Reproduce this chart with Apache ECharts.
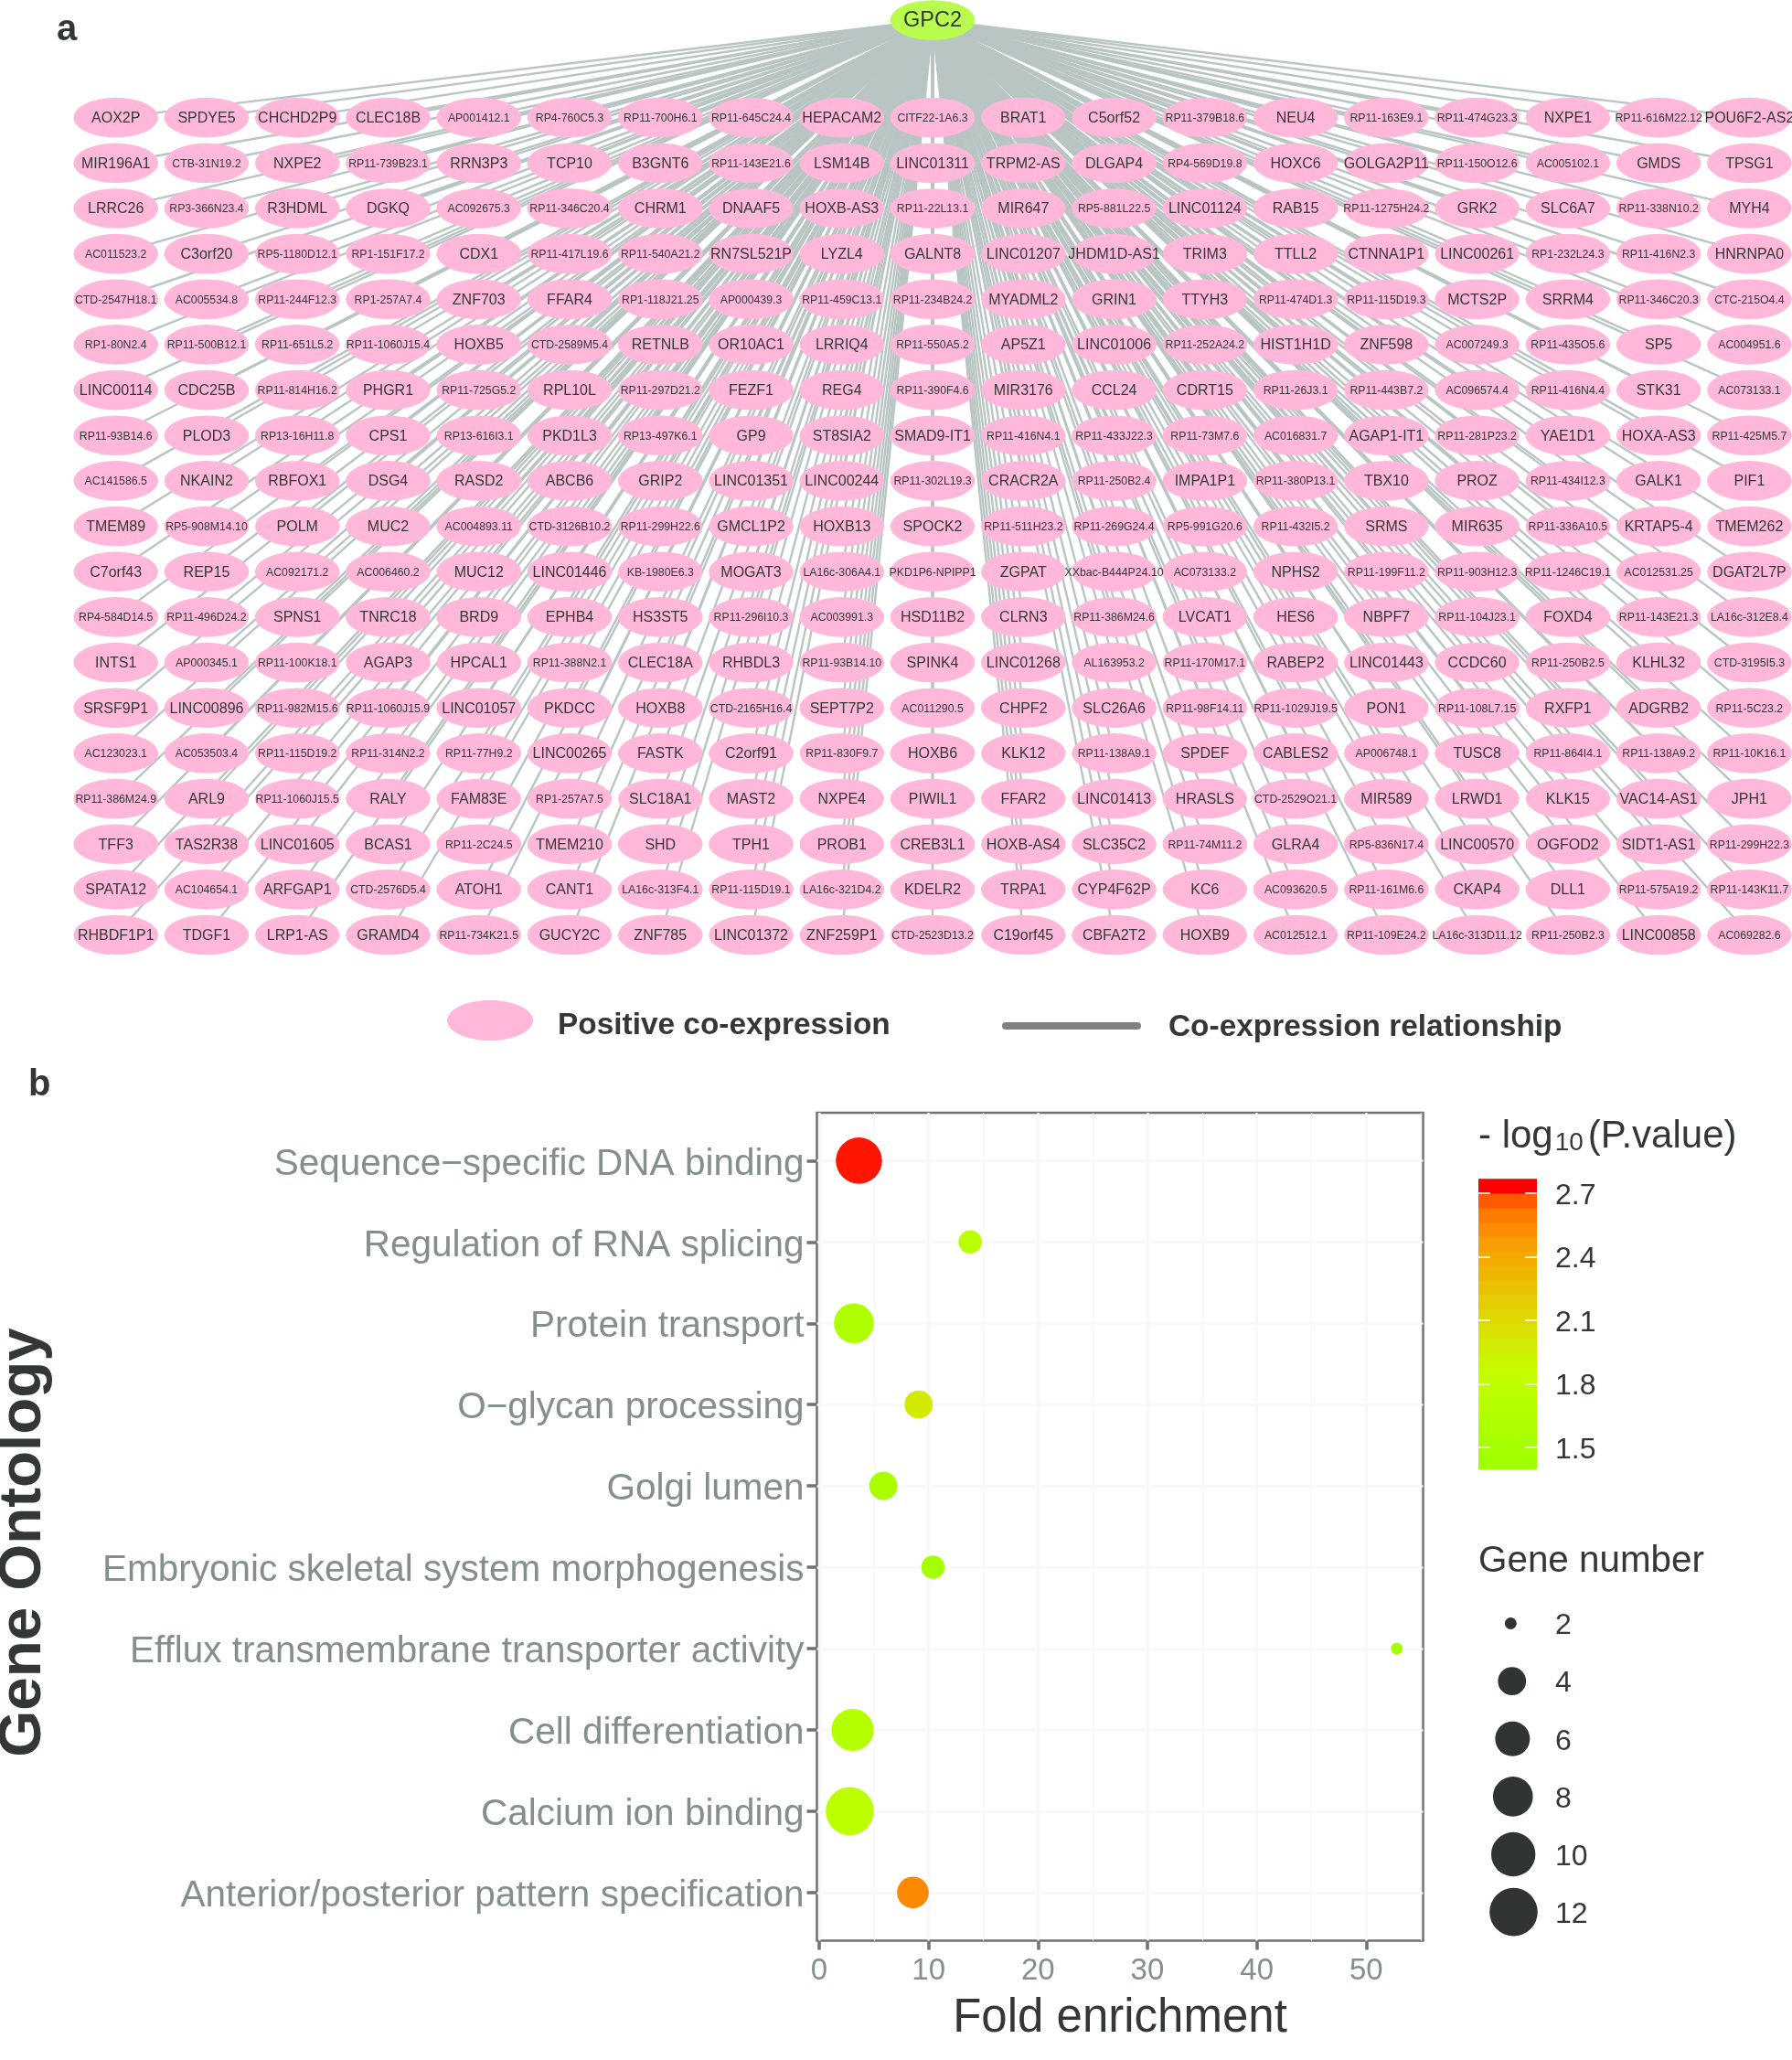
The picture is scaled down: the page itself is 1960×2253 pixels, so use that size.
<!DOCTYPE html>
<html>
<head>
<meta charset="utf-8">
<style>html,body{margin:0;padding:0;background:#fff}#c{width:1960px;height:2253px}</style>
<script src="https://cdn.jsdelivr.net/npm/echarts@6/dist/echarts.min.js"></script>
</head>
<body>
<div id="c"></div>
<script>
const hubGene = 'GPC2';
const row01 = ['AOX2P','SPDYE5','CHCHD2P9','CLEC18B','AP001412.1','RP4-760C5.3','RP11-700H6.1','RP11-645C24.4','HEPACAM2','CITF22-1A6.3','BRAT1','C5orf52','RP11-379B18.6','NEU4','RP11-163E9.1','RP11-474G23.3','NXPE1','RP11-616M22.12','POU6F2-AS2'];
const row02 = ['MIR196A1','CTB-31N19.2','NXPE2','RP11-739B23.1','RRN3P3','TCP10','B3GNT6','RP11-143E21.6','LSM14B','LINC01311','TRPM2-AS','DLGAP4','RP4-569D19.8','HOXC6','GOLGA2P11','RP11-150O12.6','AC005102.1','GMDS','TPSG1'];
const row03 = ['LRRC26','RP3-366N23.4','R3HDML','DGKQ','AC092675.3','RP11-346C20.4','CHRM1','DNAAF5','HOXB-AS3','RP11-22L13.1','MIR647','RP5-881L22.5','LINC01124','RAB15','RP11-1275H24.2','GRK2','SLC6A7','RP11-338N10.2','MYH4'];
const row04 = ['AC011523.2','C3orf20','RP5-1180D12.1','RP1-151F17.2','CDX1','RP11-417L19.6','RP11-540A21.2','RN7SL521P','LYZL4','GALNT8','LINC01207','JHDM1D-AS1','TRIM3','TTLL2','CTNNA1P1','LINC00261','RP1-232L24.3','RP11-416N2.3','HNRNPA0'];
const row05 = ['CTD-2547H18.1','AC005534.8','RP11-244F12.3','RP1-257A7.4','ZNF703','FFAR4','RP1-118J21.25','AP000439.3','RP11-459C13.1','RP11-234B24.2','MYADML2','GRIN1','TTYH3','RP11-474D1.3','RP11-115D19.3','MCTS2P','SRRM4','RP11-346C20.3','CTC-215O4.4'];
const row06 = ['RP1-80N2.4','RP11-500B12.1','RP11-651L5.2','RP11-1060J15.4','HOXB5','CTD-2589M5.4','RETNLB','OR10AC1','LRRIQ4','RP11-550A5.2','AP5Z1','LINC01006','RP11-252A24.2','HIST1H1D','ZNF598','AC007249.3','RP11-435O5.6','SP5','AC004951.6'];
const row07 = ['LINC00114','CDC25B','RP11-814H16.2','PHGR1','RP11-725G5.2','RPL10L','RP11-297D21.2','FEZF1','REG4','RP11-390F4.6','MIR3176','CCL24','CDRT15','RP11-26J3.1','RP11-443B7.2','AC096574.4','RP11-416N4.4','STK31','AC073133.1'];
const row08 = ['RP11-93B14.6','PLOD3','RP13-16H11.8','CPS1','RP13-616I3.1','PKD1L3','RP13-497K6.1','GP9','ST8SIA2','SMAD9-IT1','RP11-416N4.1','RP11-433J22.3','RP11-73M7.6','AC016831.7','AGAP1-IT1','RP11-281P23.2','YAE1D1','HOXA-AS3','RP11-425M5.7'];
const row09 = ['AC141586.5','NKAIN2','RBFOX1','DSG4','RASD2','ABCB6','GRIP2','LINC01351','LINC00244','RP11-302L19.3','CRACR2A','RP11-250B2.4','IMPA1P1','RP11-380P13.1','TBX10','PROZ','RP11-434I12.3','GALK1','PIF1'];
const row10 = ['TMEM89','RP5-908M14.10','POLM','MUC2','AC004893.11','CTD-3126B10.2','RP11-299H22.6','GMCL1P2','HOXB13','SPOCK2','RP11-511H23.2','RP11-269G24.4','RP5-991G20.6','RP11-432I5.2','SRMS','MIR635','RP11-336A10.5','KRTAP5-4','TMEM262'];
const row11 = ['C7orf43','REP15','AC092171.2','AC006460.2','MUC12','LINC01446','KB-1980E6.3','MOGAT3','LA16c-306A4.1','PKD1P6-NPIPP1','ZGPAT','XXbac-B444P24.10','AC073133.2','NPHS2','RP11-199F11.2','RP11-903H12.3','RP11-1246C19.1','AC012531.25','DGAT2L7P'];
const row12 = ['RP4-584D14.5','RP11-496D24.2','SPNS1','TNRC18','BRD9','EPHB4','HS3ST5','RP11-296I10.3','AC003991.3','HSD11B2','CLRN3','RP11-386M24.6','LVCAT1','HES6','NBPF7','RP11-104J23.1','FOXD4','RP11-143E21.3','LA16c-312E8.4'];
const row13 = ['INTS1','AP000345.1','RP11-100K18.1','AGAP3','HPCAL1','RP11-388N2.1','CLEC18A','RHBDL3','RP11-93B14.10','SPINK4','LINC01268','AL163953.2','RP11-170M17.1','RABEP2','LINC01443','CCDC60','RP11-250B2.5','KLHL32','CTD-3195I5.3'];
const row14 = ['SRSF9P1','LINC00896','RP11-982M15.6','RP11-1060J15.9','LINC01057','PKDCC','HOXB8','CTD-2165H16.4','SEPT7P2','AC011290.5','CHPF2','SLC26A6','RP11-98F14.11','RP11-1029J19.5','PON1','RP11-108L7.15','RXFP1','ADGRB2','RP11-5C23.2'];
const row15 = ['AC123023.1','AC053503.4','RP11-115D19.2','RP11-314N2.2','RP11-77H9.2','LINC00265','FASTK','C2orf91','RP11-830F9.7','HOXB6','KLK12','RP11-138A9.1','SPDEF','CABLES2','AP006748.1','TUSC8','RP11-864I4.1','RP11-138A9.2','RP11-10K16.1'];
const row16 = ['RP11-386M24.9','ARL9','RP11-1060J15.5','RALY','FAM83E','RP1-257A7.5','SLC18A1','MAST2','NXPE4','PIWIL1','FFAR2','LINC01413','HRASLS','CTD-2529O21.1','MIR589','LRWD1','KLK15','VAC14-AS1','JPH1'];
const row17 = ['TFF3','TAS2R38','LINC01605','BCAS1','RP11-2C24.5','TMEM210','SHD','TPH1','PROB1','CREB3L1','HOXB-AS4','SLC35C2','RP11-74M11.2','GLRA4','RP5-836N17.4','LINC00570','OGFOD2','SIDT1-AS1','RP11-299H22.3'];
const row18 = ['SPATA12','AC104654.1','ARFGAP1','CTD-2576D5.4','ATOH1','CANT1','LA16c-313F4.1','RP11-115D19.1','LA16c-321D4.2','KDELR2','TRPA1','CYP4F62P','KC6','AC093620.5','RP11-161M6.6','CKAP4','DLL1','RP11-575A19.2','RP11-143K11.7'];
const row19 = ['RHBDF1P1','TDGF1','LRP1-AS','GRAMD4','RP11-734K21.5','GUCY2C','ZNF785','LINC01372','ZNF259P1','CTD-2523D13.2','C19orf45','CBFA2T2','HOXB9','AC012512.1','RP11-109E24.2','LA16c-313D11.12','RP11-250B2.3','LINC00858','AC069282.6'];

const goTerms = ['Sequence\u2212specific DNA binding','Regulation of RNA splicing','Protein transport','O\u2212glycan processing','Golgi lumen','Embryonic skeletal system morphogenesis','Efflux transmembrane transporter activity','Cell differentiation','Calcium ion binding','Anterior/posterior pattern specification'];
const foldEnrichment = [3.63,13.8,3.17,9.09,5.86,10.4,52.8,3.05,2.8,8.56];
const geneNumber = [11,3,8,4,4,3,2,9,12,5];
const logP = [2.75,1.72,1.62,2.0,1.52,1.45,1.42,1.65,1.75,2.56];
const xTicks = [0,10,20,30,40,50];
const xMinorTicks = [5,15,25,35,45,55];
const pTicks = [1.5,1.8,2.1,2.4,2.7];
const geneTicks = [2,4,6,8,10,12];
const colorBins = ['#a2ff00','#a6ff00','#abff00','#b0ff00','#b6ff00','#bcff00','#c2fd00','#c9f600','#d1ec00','#d9e200','#dfd800','#e4cd00','#e9c100','#edb700','#f3ab00','#f79f00','#fc8c00','#ff7b00','#ff5a00','#ff0000'];

const INK = '#333737', AXIS_TEXT = '#848e8e', FRAME = '#6e7272', FONT = '"Liberation Sans", Arial, sans-serif';
const PINK = '#ffb7da', HUB = '#bafc4d', EDGE = '#b8c5c3';
const ELLIPSE = 'path://M0 -1A1 1 0 1 1 0 1A1 1 0 1 1 0 -1Z';
const rows = [row01,row02,row03,row04,row05,row06,row07,row08,row09,row10,row11,row12,row13,row14,row15,row16,row17,row18,row19];
const SMALL = /^(RP\d|AC\d|AP0|AL\d|CT[BCD]-|KB-|LA16c|XXbac|PKD1P6|CITF22)/;
const nodeSize = [92.7, 43.6];
const lastCol = row01.length - 1, lastRow = rows.length - 1, hubRow = -2.147;

const nodes = [{name: hubGene, value: [lastCol / 2, hubRow], symbolSize: nodeSize,
  itemStyle: {color: HUB}, label: {fontSize: 23.5}}];
const links = [];
rows.forEach((row, r) => row.forEach((g, c) => {
  nodes.push({name: g, value: [c, r], symbolSize: nodeSize, itemStyle: {color: PINK},
    label: {fontSize: SMALL.test(g) ? 12.3 : 16}});
  links.push({source: 0, target: nodes.length - 1});
}));

const bubbles = goTerms.map((t, i) => [foldEnrichment[i], i, geneNumber[i], logP[i]]);
const diameter = n => 13 + 39.6 * Math.sqrt((n - 2) / 10);
const pMin = 1.398, pMax = 2.768;
const binStep = (pMax - pMin) / colorBins.length;
const gridMarks = [
  ...goTerms.map((t, i) => ({yAxis: i, lineStyle: {width: 2.5}})),
  ...xTicks.map(v => ({xAxis: v, lineStyle: {width: 2.5}})),
  ...xMinorTicks.map(v => ({xAxis: v, lineStyle: {width: 1.2}}))
];
const hiddenX = i => ({type: 'value', gridIndex: i, min: 0, max: 1, show: false});
// Small downward nudges so axis text sits on its tick the way the reference's font metrics do.
const GO_NUDGE = 0.045, P_NUDGE = 0.013, GENE_NUDGE = 0.095;

const option = {
  animation: false,
  backgroundColor: '#fff',
  textStyle: {fontFamily: FONT},
  grid: [
    {left: 126.7, top: 22, width: 1786.7, height: 1000.5},
    {left: 893.5, top: 1217, width: 663, height: 905.5, show: true, borderColor: FRAME, borderWidth: 2.5, backgroundColor: '#fff'},
    {left: 1617, top: 1289.3, width: 64, height: 317.4},
    {left: 1620, top: 1775.5, width: 70, height: 321.0}
  ],
  xAxis: [
    {type: 'value', gridIndex: 0, min: 0, max: lastCol, show: false},
    {type: 'value', gridIndex: 1, position: 'bottom', min: -0.21, max: 55.2,
      name: 'Fold enrichment', nameLocation: 'middle', nameGap: 60,
      nameTextStyle: {fontSize: 51, color: INK, fontFamily: FONT},
      axisLine: {show: false, onZero: false}, splitLine: {show: false},
      axisTick: {show: true, customValues: xTicks, length: 10, lineStyle: {color: FRAME, width: 3.5}},
      axisLabel: {customValues: xTicks, fontSize: 33, color: AXIS_TEXT, margin: 17, fontFamily: FONT}},
    hiddenX(2), hiddenX(3)
  ],
  yAxis: [
    {type: 'value', gridIndex: 0, min: hubRow, max: lastRow, inverse: true, show: false},
    {type: 'value', gridIndex: 1, position: 'left', min: -0.589, max: 9.592, inverse: true,
      axisLine: {show: false, onZero: false}, splitLine: {show: false},
      axisTick: {show: true, customValues: goTerms.map((t, i) => i), length: 11, lineStyle: {color: FRAME, width: 3.5}},
      axisLabel: {customValues: goTerms.map((t, i) => i + GO_NUDGE), formatter: v => goTerms[Math.round(v)], fontSize: 40.5, color: AXIS_TEXT, margin: 14, fontFamily: FONT}},
    {type: 'value', gridIndex: 2, position: 'right', min: pMin, max: pMax, z: 5,
      axisLine: {show: false, onZero: false}, splitLine: {show: false},
      axisTick: {show: true, inside: true, customValues: pTicks, length: 13, lineStyle: {color: '#fff', width: 1.5}},
      axisLabel: {customValues: pTicks.map(v => v - P_NUDGE), formatter: v => (v + P_NUDGE).toFixed(1), fontSize: 32, color: INK, margin: 20, fontFamily: FONT}},
    {type: 'value', gridIndex: 2, position: 'left', min: pMin, max: pMax, z: 5,
      axisLine: {show: false, onZero: false}, splitLine: {show: false},
      axisTick: {show: true, inside: true, customValues: pTicks, length: 13, lineStyle: {color: '#fff', width: 1.5}},
      axisLabel: {show: false}},
    {type: 'value', gridIndex: 3, position: 'right', min: 2, max: 12.17, inverse: true,
      axisLine: {show: false, onZero: false}, axisTick: {show: false}, splitLine: {show: false},
      axisLabel: {customValues: geneTicks.map(v => v + GENE_NUDGE), formatter: v => String(Math.round(v)), fontSize: 32, color: INK, margin: 11, fontFamily: FONT}}
  ],
  visualMap: {show: false, type: 'continuous', seriesIndex: 1, dimension: 3, min: pMin, max: pMax, inRange: {color: colorBins}},
  series: [
    {type: 'graph', coordinateSystem: 'cartesian2d', xAxisIndex: 0, yAxisIndex: 0, layout: 'none',
      silent: true, roam: false, symbol: ELLIPSE, data: nodes, links: links,
      lineStyle: {color: EDGE, width: 2.4, opacity: 1, curveness: 0},
      label: {show: true, position: 'inside', offset: [0, 1], color: INK, fontFamily: FONT, formatter: '{b}'},
      edgeSymbol: ['none', 'none']},
    {type: 'scatter', xAxisIndex: 1, yAxisIndex: 1, data: bubbles, silent: true,
      symbolSize: v => diameter(v[2]), itemStyle: {opacity: 1}, z: 4,
      markLine: {silent: true, symbol: 'none', label: {show: false}, animation: false, z: 1,
        lineStyle: {color: '#f6f7f7', type: 'solid'}, data: gridMarks}},
    {type: 'custom', xAxisIndex: 2, yAxisIndex: 2, silent: true, z: 2,
      data: colorBins.map((c, i) => [pMin + i * binStep, pMin + (i + 1) * binStep]),
      encode: {y: [0, 1]},
      renderItem: (params, api) => {
        const a = api.coord([0, api.value(0)]), b = api.coord([1, api.value(1)]);
        return {type: 'rect', shape: {x: a[0], y: b[1], width: b[0] - a[0], height: a[1] - b[1] + 0.5},
          style: {fill: colorBins[params.dataIndex]}};
      }},
    {type: 'scatter', xAxisIndex: 3, yAxisIndex: 4, silent: true,
      data: geneTicks.map(n => ({value: [0.507, n], symbolSize: diameter(n),
        symbolOffset: [-(52.6 - diameter(n)) * 0.08, 0]})),
      itemStyle: {color: '#303434', opacity: 1}}
  ],
  graphic: [
    {type: 'text', left: 62, top: 13, style: {text: 'a', font: 'bold 40px ' + FONT, fill: INK}},
    {type: 'text', left: 31, top: 1167, style: {text: 'b', font: 'bold 40px ' + FONT, fill: INK}},
    {type: 'ellipse', shape: {cx: 536, cy: 1116, rx: 47, ry: 22}, style: {fill: PINK}},
    {type: 'text', x: 610, y: 1121.5, style: {text: 'Positive co-expression', font: 'bold 33.4px ' + FONT, fill: INK, verticalAlign: 'middle'}},
    {type: 'line', shape: {x1: 1100, y1: 1122, x2: 1244, y2: 1122}, style: {stroke: '#7e8083', lineWidth: 8, lineCap: 'round'}},
    {type: 'text', x: 1278, y: 1123.5, style: {text: 'Co-expression relationship', font: 'bold 33.4px ' + FONT, fill: INK, verticalAlign: 'middle'}},
    {type: 'text', x: 26, y: 1687, rotation: Math.PI / 2, style: {text: 'Gene Ontology', font: 'bold 65.5px ' + FONT, fill: INK, align: 'center', verticalAlign: 'middle'}},
    {type: 'text', x: 1617, y: 1243, style: {
      text: '- log{s|10}(P.value)', font: '42px ' + FONT, fill: INK, verticalAlign: 'middle',
      rich: {s: {fontSize: 28, fontFamily: FONT, fill: INK, padding: [14, 5, 0, 2]}}}},
    {type: 'text', x: 1617, y: 1708, style: {text: 'Gene number', font: '40.4px ' + FONT, fill: INK, verticalAlign: 'middle'}}
  ]
};
const chart = echarts.init(document.getElementById('c'), null, {renderer: 'canvas', width: 1960, height: 2253});
chart.setOption(option);
</script>
</body>
</html>
